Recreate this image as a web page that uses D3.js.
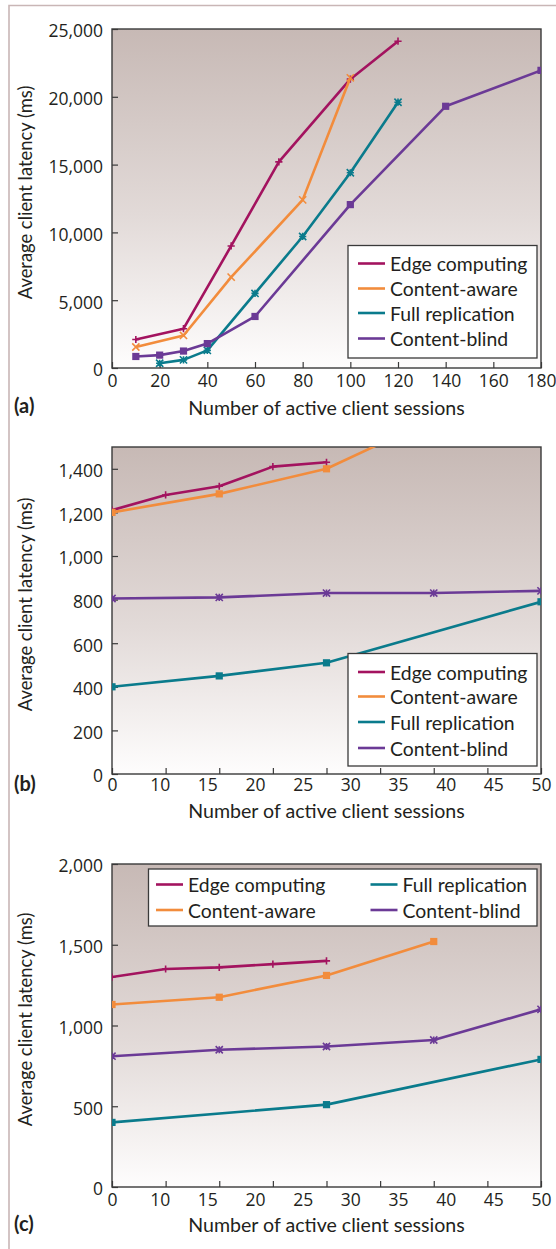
<!DOCTYPE html>
<html><head><meta charset="utf-8">
<script src="https://cdn.jsdelivr.net/npm/d3@7"></script>
<style>
html,body{margin:0;padding:0;background:#fff}
svg{display:block}
text{fill:#231f20}
</style>
</head><body>
<svg id="chart" width="556" height="1249" font-family="Lato, 'Open Sans', sans-serif"></svg>
<script>
// ---------- shared ----------
const seriesNames = ["Edge computing", "Content-aware", "Full replication", "Content-blind"];
const seriesColors = ["#a3135f", "#f28c3c", "#0a7b8c", "#6b3a96"];
const yTitle = "Average client latency (ms)";
const xTitle = "Number of active client sessions";

// ---------- panel (a) ----------
const aXTicks = [0, 20, 40, 60, 80, 100, 120, 140, 160, 180];
const aYTicks = [0, 5000, 10000, 15000, 20000, 25000];
const aEdgeX = [10, 30, 50, 70, 100, 120];
const aEdgeY = [2100, 2900, 9000, 15200, 21300, 24100];
const aAwareX = [10, 30, 50, 80, 100];
const aAwareY = [1550, 2400, 6700, 12400, 21400];
const aFullX = [20, 30, 40, 60, 80, 100, 120];
const aFullY = [350, 600, 1300, 5500, 9700, 14400, 19600];
const aBlindX = [10, 20, 30, 40, 60, 100, 140, 180];
const aBlindY = [850, 950, 1250, 1800, 3800, 12050, 19300, 21950];

// ---------- panels (b) and (c): shared x axis ----------
const bcXLabels = ["0", "10", "15", "20", "25", "30", "35", "40", "45", "50"];
const bcXTickMarks = [0, 6.25, 12.5, 18.75, 25, 31.25, 37.5, 43.75, 50];

// ---------- panel (b) ----------
const bYTicks = [0, 200, 400, 600, 800, 1000, 1200, 1400];
const bEdgeX = [0, 6.25, 12.5, 18.75, 25];
const bEdgeY = [1210, 1280, 1320, 1410, 1430];
const bAwareX = [0, 12.5, 25, 37.5];
const bAwareY = [1200, 1285, 1400, 1630];
const bFullX = [0, 12.5, 25, 50];
const bFullY = [400, 450, 510, 790];
const bBlindX = [0, 12.5, 25, 37.5, 50];
const bBlindY = [805, 810, 830, 830, 840];

// ---------- panel (c) ----------
const cYTicks = [0, 500, 1000, 1500, 2000];
const cEdgeX = [0, 6.25, 12.5, 18.75, 25];
const cEdgeY = [1300, 1350, 1360, 1380, 1400];
const cAwareX = [0, 12.5, 25, 37.5];
const cAwareY = [1130, 1175, 1310, 1520];
const cFullX = [0, 25, 50];
const cFullY = [400, 510, 790];
const cBlindX = [0, 12.5, 25, 37.5, 50];
const cBlindY = [810, 850, 870, 910, 1100];

const svg = d3.select("#chart");
const defs = svg.append("defs");
const grad = defs.append("linearGradient").attr("id", "bg").attr("x1", 0).attr("y1", 0).attr("x2", 0).attr("y2", 1);
grad.append("stop").attr("offset", "0%").attr("stop-color", "#c7b9b5");
grad.append("stop").attr("offset", "55%").attr("stop-color", "#e2dad8");
grad.append("stop").attr("offset", "100%").attr("stop-color", "#fefdfd");

// outer frame (top and left)
svg.append("path").attr("d", "M9,1249 V5.5 H556").attr("fill", "none")
  .attr("stroke", "#c9b6b6").attr("stroke-width", 1.6);

const TEXT_FONT = "Lato, 'Open Sans', sans-serif";
const TICK_FONT = "'Open Sans', Lato, sans-serif";
const TICK_FS = 17.5;
const TITLE_FS = 19.6;
const YTITLE_FS = 18.4;
const LEG_FS = 19.4;

function zip(xs, ys) { return xs.map((x, i) => ({ x, y: ys[i] })); }

function marker(g, type, cx, cy, color) {
  const s = 3.6;
  if (type === "square") {
    g.append("rect").attr("x", cx - 3.6).attr("y", cy - 3.6).attr("width", 7.2).attr("height", 7.2).attr("fill", color);
    return;
  }
  let d = "";
  if (type === "plus" || type === "asterisk") d += `M${cx - s},${cy}H${cx + s}M${cx},${cy - s}V${cy + s}`;
  if (type === "x" || type === "asterisk") d += `M${cx - s},${cy - s}L${cx + s},${cy + s}M${cx - s},${cy + s}L${cx + s},${cy - s}`;
  g.append("path").attr("d", d).attr("stroke", color).attr("stroke-width", 1.6).attr("fill", "none");
}

function panel(cfg) {
  const { left, right, top, bottom } = cfg;
  const x = d3.scaleLinear().domain(cfg.xDomain).range([left, right]);
  const y = d3.scaleLinear().domain(cfg.yDomain).range([bottom, top]);
  const g = svg.append("g").style("font-family", TEXT_FONT);

  g.append("rect").attr("x", left).attr("y", top).attr("width", right - left).attr("height", bottom - top)
    .attr("fill", "url(#bg)");

  const clipId = "clip" + cfg.tag.replace(/\W/g, "");
  defs.append("clipPath").attr("id", clipId).append("rect")
    .attr("x", left).attr("y", top).attr("width", right - left).attr("height", bottom - top);

  // tick marks (inward)
  const xMarks = g.append("g").attr("transform", `translate(0,${bottom})`)
    .call(d3.axisBottom(x).tickValues(cfg.xTickMarks).tickSize(-6).tickFormat(""));
  xMarks.select(".domain").remove();
  xMarks.selectAll("line").attr("stroke", "#3a3a3a").attr("stroke-width", 1.2);

  // x labels
  let labelAxis;
  if (cfg.xLabels) {
    const p = d3.scalePoint().domain(cfg.xLabels).range([left, right]);
    labelAxis = d3.axisBottom(p).tickSize(0).tickPadding(cfg.xPad);
  } else {
    labelAxis = d3.axisBottom(x).tickValues(cfg.xTickMarks).tickSize(0).tickPadding(cfg.xPad).tickFormat(d3.format("d"));
  }
  const xl = g.append("g").attr("transform", `translate(0,${bottom})`).call(labelAxis);
  xl.select(".domain").remove();
  xl.selectAll("text").style("font-size", TICK_FS + "px").style("font-family", TICK_FONT).style("fill", "#231f20");

  // y axis
  const ya = g.append("g").attr("transform", `translate(${left},0)`)
    .call(d3.axisLeft(y).tickValues(cfg.yTicks).tickSize(-6).tickPadding(9).tickFormat(d3.format(",")));
  ya.select(".domain").remove();
  ya.selectAll("line").attr("stroke", "#3a3a3a").attr("stroke-width", 1.2);
  ya.selectAll("text").style("font-size", TICK_FS + "px").style("font-family", TICK_FONT).attr("dy", "0.45em").style("fill", "#231f20");

  // plot border
  g.append("rect").attr("x", left).attr("y", top).attr("width", right - left).attr("height", bottom - top)
    .attr("fill", "none").attr("stroke", "#3a3a3a").attr("stroke-width", 1.4);

  // series
  const sg = g.append("g").attr("clip-path", `url(#${clipId})`);
  const line = d3.line().x(d => x(d.x)).y(d => y(d.y));
  cfg.series.forEach((s, i) => {
    const data = zip(s.x, s.y);
    sg.append("path").datum(data).attr("d", line).attr("fill", "none")
      .attr("stroke", seriesColors[i]).attr("stroke-width", 2.6).attr("stroke-linejoin", "round");
    data.forEach(d => marker(sg, s.marker, x(d.x), y(d.y), seriesColors[i]));
  });

  // titles
  g.append("text").attr("x", (left + right) / 2).attr("y", bottom + cfg.titleOff)
    .attr("text-anchor", "middle").style("font-size", TITLE_FS + "px").text(xTitle);
  g.append("text").attr("transform", `translate(25,${(top + bottom) / 2 - 6}) rotate(-90)`)
    .attr("text-anchor", "middle").attr("dominant-baseline", "central").style("font-size", YTITLE_FS + "px").text(yTitle);
  g.append("text").attr("x", 14).attr("y", cfg.tagY).style("font-size", "20px").attr("font-weight", "bold").text(cfg.tag);

  // legend
  const L = cfg.legend;
  g.append("rect").attr("x", L.x).attr("y", L.y).attr("width", L.w).attr("height", L.h)
    .attr("fill", "#fff").attr("stroke", "#3a3a3a").attr("stroke-width", 1.3);
  seriesNames.forEach((name, i) => {
    const pos = L.pos[i];
    g.append("line").attr("x1", pos[0]).attr("x2", pos[0] + 27).attr("y1", pos[1]).attr("y2", pos[1])
      .attr("stroke", seriesColors[i]).attr("stroke-width", 2.6);
    g.append("text").attr("x", pos[0] + 32).attr("y", pos[1]).attr("dominant-baseline", "central")
      .style("font-size", LEG_FS + "px").text(name);
  });
}

panel({
  tag: "(a)", tagY: 413, left: 112, right: 541, top: 29, bottom: 368,
  xDomain: [0, 180], yDomain: [0, 25000], xTickMarks: aXTicks, yTicks: aYTicks, xPad: 7, titleOff: 47,
  series: [
    { x: aEdgeX, y: aEdgeY, marker: "plus" },
    { x: aAwareX, y: aAwareY, marker: "x" },
    { x: aFullX, y: aFullY, marker: "asterisk" },
    { x: aBlindX, y: aBlindY, marker: "square" }
  ],
  legend: { x: 348, y: 245.5, w: 189, h: 112.5, pos: [[358, 263.5], [358, 288.5], [358, 313], [358, 338.5]] }
});

panel({
  tag: "(b)", tagY: 791, left: 112, right: 541, top: 447, bottom: 774,
  xDomain: [0, 50], yDomain: [0, 1500], xTickMarks: bcXTickMarks, xLabels: bcXLabels, yTicks: bYTicks, xPad: 5, titleOff: 44,
  series: [
    { x: bEdgeX, y: bEdgeY, marker: "plus" },
    { x: bAwareX, y: bAwareY, marker: "square" },
    { x: bFullX, y: bFullY, marker: "square" },
    { x: bBlindX, y: bBlindY, marker: "asterisk" }
  ],
  legend: { x: 348, y: 653.5, w: 189, h: 112.5, pos: [[358, 672], [358, 696.5], [358, 722], [358, 748]] }
});

panel({
  tag: "(c)", tagY: 1231, left: 112, right: 541, top: 864, bottom: 1187,
  xDomain: [0, 50], yDomain: [0, 2000], xTickMarks: bcXTickMarks, xLabels: bcXLabels, yTicks: cYTicks, xPad: 7, titleOff: 45,
  series: [
    { x: cEdgeX, y: cEdgeY, marker: "plus" },
    { x: cAwareX, y: cAwareY, marker: "square" },
    { x: cFullX, y: cFullY, marker: "square" },
    { x: cBlindX, y: cBlindY, marker: "asterisk" }
  ],
  legend: { x: 148.5, y: 869, w: 388.5, h: 57, pos: [[156, 884.5], [156, 910], [370.5, 884.5], [370.5, 910]] }
});
</script>
</body></html>
